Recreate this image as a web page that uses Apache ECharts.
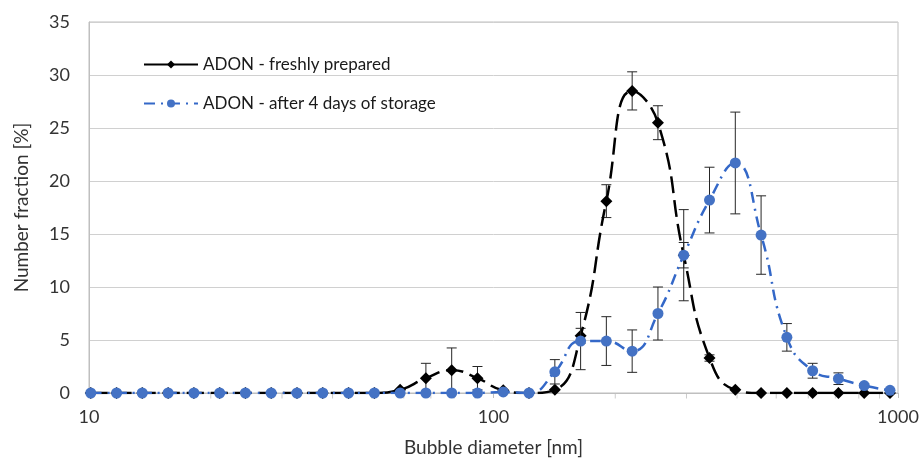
<!DOCTYPE html>
<html>
<head>
<meta charset="utf-8">
<script src="https://cdn.jsdelivr.net/npm/echarts@6/dist/echarts.min.js"></script>
<style>html,body{margin:0;padding:0;background:#fff}#c{width:920px;height:458px}</style>
</head>
<body>
<div id="c"></div>
<script>
// Bubble diameter bins [nm]
const sizes = [10.1, 11.7, 13.54, 15.69, 18.17, 21.04, 24.36, 28.21, 32.67, 37.84, 43.82, 50.75,
  58.77, 68.06, 78.82, 91.28, 105.7, 122.4, 141.8, 164.2, 190.1, 220.2, 255.0, 295.3,
  342.0, 396.1, 458.7, 531.2, 615.1, 712.4, 825.0, 955.4];
// ADON - freshly prepared
const freshValues = [0, 0, 0, 0, 0, 0, 0, 0, 0, 0, 0, 0,
  0.3, 1.4, 2.15, 1.4, 0.25, 0, 0.3, 5.4, 18.1, 28.5, 25.5, 13.0,
  3.3, 0.3, 0, 0, 0, 0, 0, 0];
const freshErrors = [0, 0, 0, 0, 0, 0, 0, 0, 0, 0, 0, 0,
  0, 1.4, 2.1, 1.1, 0, 0, 0, 0.7, 1.55, 1.8, 1.6, 1.2,
  0.3, 0, 0, 0, 0, 0, 0, 0];
// ADON - after 4 days of storage
const storedValues = [0, 0, 0, 0, 0, 0, 0, 0, 0, 0, 0, 0,
  0, 0, 0, 0, 0.1, 0, 2.0, 4.9, 4.9, 3.95, 7.5, 13.0,
  18.2, 21.7, 14.9, 5.25, 2.1, 1.35, 0.7, 0.25];
const storedErrors = [0, 0, 0, 0, 0, 0, 0, 0, 0, 0, 0, 0,
  0, 0, 0, 0, 0, 0, 1.15, 2.7, 2.3, 2.0, 2.5, 4.3,
  3.1, 4.8, 3.7, 1.3, 0.7, 0.55, 0.15, 0];
// minor tick positions on the log axis
const minorTicks = [20, 30, 40, 50, 60, 70, 80, 90, 200, 300, 400, 500, 600, 700, 800, 900];
const xTickLabels = ['10', '100', '1000'];

const FONT = 'Lato';
const TXT = '#333333';

function pairs(vals) { return sizes.map((s, i) => [s, vals[i]]); }
function errData(vals, errs) {
  const out = [];
  sizes.forEach((s, i) => { if (errs[i] > 0) out.push([s, vals[i], errs[i]]); });
  return out;
}
function renderErr(params, api) {
  const x = api.value(0), y = api.value(1), e = api.value(2);
  const top = api.coord([x, y + e]);
  const bot = api.coord([x, Math.max(y - e, 0)]);
  const w = 5;
  const st = { stroke: '#262626', lineWidth: 1 };
  return {
    type: 'group',
    children: [
      { type: 'line', shape: { x1: top[0], y1: top[1], x2: bot[0], y2: bot[1] }, style: st },
      { type: 'line', shape: { x1: top[0] - w, y1: top[1], x2: top[0] + w, y2: top[1] }, style: st },
      { type: 'line', shape: { x1: bot[0] - w, y1: bot[1], x2: bot[0] + w, y2: bot[1] }, style: st }
    ]
  };
}

const chart = echarts.init(document.getElementById('c'), null, { renderer: 'canvas' });
chart.setOption({
  animation: false,
  backgroundColor: '#fff',
  textStyle: { fontFamily: FONT },
  grid: {
    left: 89, right: 22, top: 22, bottom: 65, containLabel: false, outerBoundsMode: 'none',
    show: true, borderColor: '#bfbfbf', borderWidth: 1
  },
  legend: {
    orient: 'vertical', left: 138, top: 51,
    itemWidth: 54, itemHeight: 10, itemGap: 22,
    textStyle: { fontFamily: FONT, fontSize: 17, color: '#1a1a1a' },
    data: [
      { name: 'ADON - freshly prepared', lineStyle: { type: 'solid' } },
      { name: 'ADON - after 4 days of storage' }
    ]
  },
  xAxis: {
    type: 'log', logBase: 10, min: 10, max: 1000,
    name: 'Bubble diameter [nm]', nameLocation: 'middle', nameGap: 45,
    nameTextStyle: { fontFamily: FONT, fontSize: 19, color: TXT },
    axisLine: { show: true, lineStyle: { color: '#bfbfbf', width: 1 } },
    axisTick: { show: true, length: 5, lineStyle: { color: '#bfbfbf' } },
    axisLabel: {
      fontFamily: FONT, fontSize: 18, color: TXT, margin: 15,
      formatter: v => xTickLabels.find(t => Math.abs(+t - v) < 1e-6) || ''
    },
    splitLine: { show: false },
    minorTick: { show: false }
  },
  yAxis: {
    type: 'value', min: 0, max: 35, interval: 5,
    name: 'Number fraction [%]', nameLocation: 'middle', nameGap: 58,
    nameTextStyle: { fontFamily: FONT, fontSize: 19, color: TXT },
    axisLine: { show: true, lineStyle: { color: '#bfbfbf', width: 1 } },
    axisTick: { show: false },
    axisLabel: { fontFamily: FONT, fontSize: 18, color: TXT, margin: 19 },
    splitLine: { show: true, lineStyle: { color: '#d0d0d0', width: 1 } }
  },
  series: [
    {
      name: 'minorTicks', type: 'scatter', silent: true, z: 1,
      data: minorTicks.map(v => [v, 0]),
      symbol: 'rect', symbolSize: [1, 5], symbolOffset: [0, 3],
      itemStyle: { color: '#bfbfbf' }
    },
    {
      name: 'ADON - freshly prepared', type: 'line', z: 3,
      data: pairs(freshValues), smooth: 0.5,
      symbol: 'diamond', symbolSize: 12,
      lineStyle: { color: '#000', width: 2.5, type: [17, 7] },
      itemStyle: { color: '#000' }
    },
    {
      name: 'freshErr', type: 'custom', z: 2, silent: true,
      data: errData(freshValues, freshErrors), renderItem: renderErr
    },
    {
      name: 'ADON - after 4 days of storage', type: 'line', z: 5,
      data: pairs(storedValues), smooth: 0.5,
      symbol: 'circle', symbolSize: 11,
      lineStyle: { color: '#3468c8', width: 2.5, type: [11, 6, 2, 6] },
      itemStyle: { color: '#4472c4' }
    },
    {
      name: 'storedErr', type: 'custom', z: 4, silent: true,
      data: errData(storedValues, storedErrors), renderItem: renderErr
    }
  ]
});
</script>
</body>
</html>
